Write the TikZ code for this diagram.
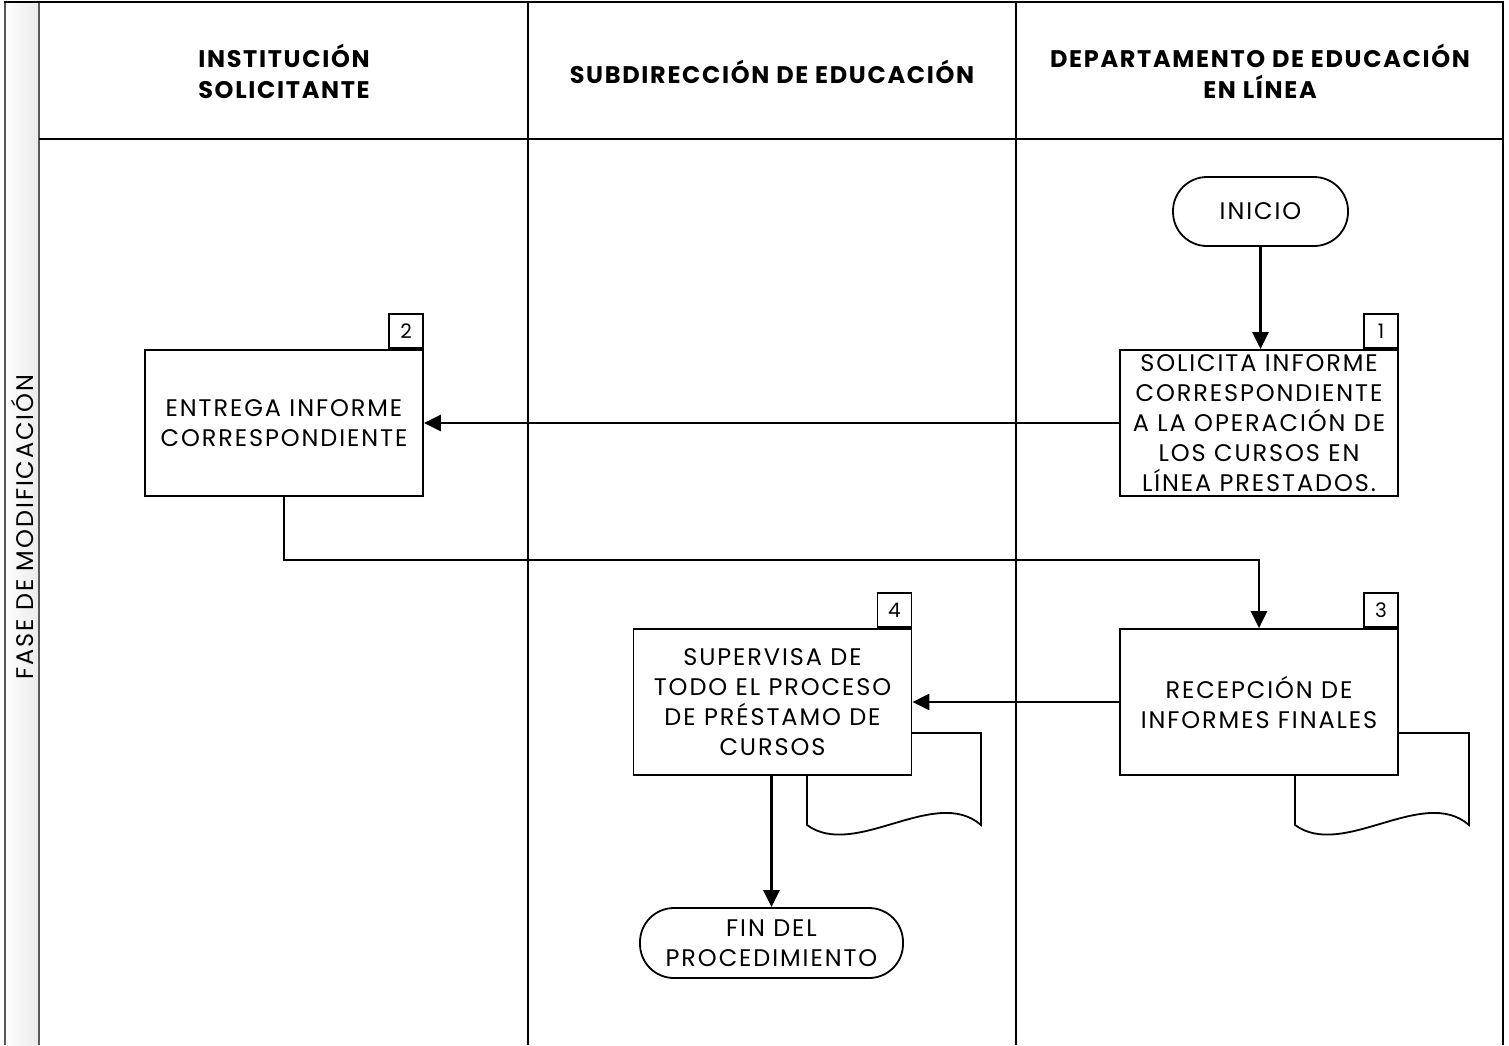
\documentclass[tikz,border=0pt]{standalone}
\usepackage{fontspec}
\setmainfont{Poppins}
\usetikzlibrary{arrows.meta}
\newcommand\bodyfnt{\fontsize{24}{30}\selectfont\addfontfeature{LetterSpace=8}}
\newcommand\headfnt{\fontsize{24}{31}\selectfont\bfseries\addfontfeature{LetterSpace=7}}
\begin{document}
\begin{tikzpicture}[x=1pt,y=-1pt,
  laneline/.style={line width=2pt, black},
  stripline/.style={line width=2pt, black!65},
  proc/.style={draw, line width=1.8pt, fill=white, minimum width=278pt, minimum height=146pt, align=center, inner sep=0pt, font=\bodyfnt},
  numbox/.style={draw, line width=1.8pt, fill=white, minimum width=34pt, minimum height=34pt, inner sep=0pt, font=\fontsize{20}{20}\selectfont},
  term/.style={draw, line width=1.8pt, fill=white, rounded corners=34pt, align=center, inner sep=0pt, font=\bodyfnt},
  docshape/.style={draw, line width=1.8pt, fill=white},
  arr/.style={line width=2.5pt, -{Triangle[width=16pt,length=17pt]}},
  head/.style={align=center, font=\headfnt}
]
\useasboundingbox (0,0) rectangle (1509,1045);
% left strip
\shade[left color=white, right color=black!8] (5,2) rectangle (39,1045);
\draw[stripline] (5,1045) -- (5,2);
\draw[stripline] (39,1045) -- (39,2);
% frame and lanes
\draw[laneline] (4,2) -- (1503,2) -- (1503,1045);
\draw[laneline] (39,139) -- (1503,139);
\draw[laneline] (528,2) -- (528,1045);
\draw[laneline] (1016,2) -- (1016,1045);
% headers
\node[head] (h1) at (284,71) {INSTITUCIÓN\\SOLICITANTE};
\node[head] (h2) at (772,72) {SUBDIRECCIÓN DE EDUCACIÓN};
\node[head] (h3) at (1260,71) {DEPARTAMENTO DE EDUCACIÓN\\EN LÍNEA};
\node[rotate=90, font=\bodyfnt] (fase) at (22,527) {FASE DE MODIFICACIÓN};
% document shapes
\draw[docshape] (807,733) -- (981,733) -- (981,825) .. controls (935,785) and (855,860) .. (807,825) -- cycle;
\draw[docshape] (1295,733) -- (1469,733) -- (1469,825) .. controls (1423,785) and (1343,860) .. (1295,825) -- cycle;
% nodes
\node[term, minimum width=175pt, minimum height=69pt] (inicio) at (1260.5,211.5) {INICIO};
\node[proc] (b1) at (1259,423) {SOLICITA INFORME\\CORRESPONDIENTE\\A LA OPERACIÓN DE\\LOS CURSOS EN\\LÍNEA PRESTADOS.};
\node[numbox, anchor=south east] (n1) at (b1.north east) {1};
\node[proc] (b2) at (284,423) {ENTREGA INFORME\\CORRESPONDIENTE};
\node[numbox, anchor=south east] (n2) at (b2.north east) {2};
\node[proc] (b3) at (1259,702) {RECEPCIÓN DE\\INFORMES FINALES};
\node[numbox, anchor=south east] (n3) at (b3.north east) {3};
\node[proc] (b4) at (772.5,702) {SUPERVISA DE\\TODO EL PROCESO\\DE PRÉSTAMO DE\\CURSOS};
\node[numbox, anchor=south east] (n4) at (b4.north east) {4};
\node[term, minimum width=263pt, minimum height=70pt] (fin) at (771.5,943) {FIN DEL\\PROCEDIMIENTO};
% connectors
\coordinate (m) at (1259,560);
\draw[arr] (inicio.south) -- (inicio.south |- b1.north);
\draw[arr] (b1.west) -- (b2.east);
\draw[arr] (b2.south) |- (m) -- (b3.north);
\draw[arr] (b3.west) -- (b4.east);
\draw[arr] (b4.south -| fin.north) -- (fin.north);
\end{tikzpicture}
\end{document}
